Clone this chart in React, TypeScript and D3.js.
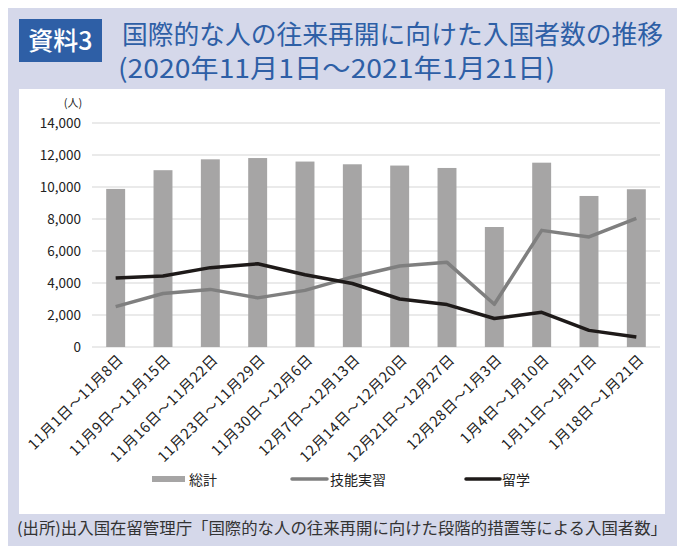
import React, { useEffect, useRef } from 'react';
import * as d3 from 'd3';

const weeks = [
  '11月1日～11月8日',
  '11月9日～11月15日',
  '11月16日～11月22日',
  '11月23日～11月29日',
  '11月30日～12月6日',
  '12月7日～12月13日',
  '12月14日～12月20日',
  '12月21日～12月27日',
  '12月28日～1月3日',
  '1月4日～1月10日',
  '1月11日～1月17日',
  '1月18日～1月21日',
];
const total = [9880, 11050, 11730, 11810, 11590, 11420, 11340, 11190, 7500, 11520, 9440, 9860];
const trainees = [2520, 3340, 3600, 3070, 3540, 4380, 5060, 5290, 2670, 7290, 6880, 8040];
const students = [4310, 4440, 4960, 5200, 4520, 3970, 3000, 2650, 1780, 2170, 1040, 630];
const yTicks = [0, 2000, 4000, 6000, 8000, 10000, 12000, 14000];

const FONT = '"Noto Sans CJK JP", "Noto Sans", sans-serif';
const W = 685;
const H = 554;

const App = () => {
  const svgRef = useRef<SVGSVGElement>(null);

  useEffect(() => {
    const svg = d3.select(svgRef.current);
    svg.selectAll('*').remove();

    // frame
    svg.append('rect').attr('width', W).attr('height', H).attr('fill', '#fff');
    svg.append('rect').attr('x', 3).attr('y', 3).attr('width', 678).attr('height', 548).attr('fill', '#d5d8ea');
    svg.append('rect').attr('x', 19).attr('y', 89).attr('width', 646).attr('height', 425).attr('fill', '#fff');

    // heading
    svg.append('rect').attr('x', 19).attr('y', 19).attr('width', 83).attr('height', 43).attr('fill', '#2e5fa6');
    svg.append('text').attr('x', 60.5).attr('y', 50).attr('text-anchor', 'middle')
      .attr('fill', '#fff').style('font-family', FONT).style('font-size', '25px').style('font-weight', 500)
      .text('資料3');
    const title = svg.append('text').attr('fill', '#2e5fa6').style('font-family', FONT)
      .style('font-size', '26px').style('font-weight', 400);
    title.append('tspan').attr('x', 122).attr('y', 44)
      .attr('textLength', 541).attr('lengthAdjust', 'spacingAndGlyphs')
      .text('国際的な人の往来再開に向けた入国者数の推移');
    title.append('tspan').attr('x', 118).attr('y', 78)
      .attr('textLength', 437).attr('lengthAdjust', 'spacingAndGlyphs')
      .text('(2020年11月1日～2021年1月21日)');

    const left = 92;
    const right = 660;
    const top = 123;
    const bottom = 347;

    const x = d3.scaleBand().domain(weeks).range([left, right]).paddingInner(0.6).paddingOuter(0.3);
    const y = d3.scaleLinear().domain([0, 14000]).range([bottom, top]);
    const cx = (d: string) => (x(d) as number) + x.bandwidth() / 2;

    // grid
    svg.append('g').selectAll('line').data(yTicks).join('line')
      .attr('x1', left).attr('x2', right)
      .attr('y1', d => y(d)).attr('y2', d => y(d))
      .attr('stroke', '#e3e3e3').attr('stroke-width', 1.5);

    // y axis labels
    const yAxis = svg.append('g').attr('transform', `translate(${left},0)`)
      .call(d3.axisLeft(y).tickValues(yTicks).tickSize(0).tickPadding(11).tickFormat(d3.format(',')));
    yAxis.select('.domain').remove();
    yAxis.selectAll('text').style('font-family', FONT).style('font-size', '13.5px').attr('fill', '#222');
    svg.append('text').attr('x', 73).attr('y', 107).attr('text-anchor', 'middle')
      .style('font-family', FONT).style('font-size', '11px').attr('fill', '#222').text('(人)');

    // bars
    svg.append('g').selectAll('rect').data(total).join('rect')
      .attr('x', (_, i) => x(weeks[i]) as number)
      .attr('y', d => y(d))
      .attr('width', x.bandwidth())
      .attr('height', d => bottom - y(d))
      .attr('fill', '#a6a5a5');

    const line = d3.line<number>().x((_, i) => cx(weeks[i])).y(d => y(d));
    svg.append('path').datum(trainees).attr('d', line).attr('fill', 'none')
      .attr('stroke', '#7f7f7f').attr('stroke-width', 3.5).attr('stroke-linejoin', 'round');
    svg.append('path').datum(students).attr('d', line).attr('fill', 'none')
      .attr('stroke', '#1e1a19').attr('stroke-width', 3.5).attr('stroke-linejoin', 'round');

    // x labels, rotated
    svg.append('g').selectAll('text').data(weeks).join('text')
      .attr('transform', d => `translate(${cx(d) + 5},${bottom + 10}) rotate(-45)`)
      .attr('text-anchor', 'end').attr('dy', '0.35em')
      .style('font-family', FONT).style('font-size', '14.5px').style('letter-spacing', '0.6px')
      .attr('fill', '#222')
      .text(d => d);

    // legend
    const lg = svg.append('g').style('font-family', FONT).style('font-size', '14px');
    lg.append('rect').attr('x', 152).attr('y', 476).attr('width', 33).attr('height', 6).attr('fill', '#a6a5a5');
    lg.append('text').attr('x', 189).attr('y', 485).attr('fill', '#222').text('総計');
    lg.append('line').attr('x1', 292).attr('x2', 327).attr('y1', 479).attr('y2', 479)
      .attr('stroke', '#7f7f7f').attr('stroke-width', 3.5).attr('stroke-linecap', 'round');
    lg.append('text').attr('x', 330).attr('y', 485).attr('fill', '#222').text('技能実習');
    lg.append('line').attr('x1', 466).attr('x2', 500).attr('y1', 479).attr('y2', 479)
      .attr('stroke', '#1e1a19').attr('stroke-width', 3.5).attr('stroke-linecap', 'round');
    lg.append('text').attr('x', 502).attr('y', 485).attr('fill', '#222').text('留学');

    // source
    svg.append('text').attr('x', 17).attr('y', 534).attr('fill', '#333')
      .attr('textLength', 650).attr('lengthAdjust', 'spacingAndGlyphs')
      .style('font-family', FONT).style('font-size', '16px')
      .text('(出所)出入国在留管理庁「国際的な人の往来再開に向けた段階的措置等による入国者数」');
  }, []);

  return <svg ref={svgRef} width={W} height={H} style={{ display: 'block', margin: '-8px' }} />;
};

export default App;
